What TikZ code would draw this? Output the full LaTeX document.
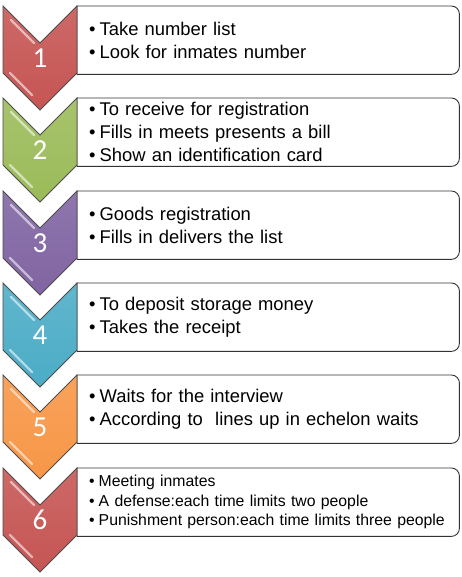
\documentclass[tikz,border=0pt]{standalone}
\usepackage{fontspec}
\setmainfont{Liberation Sans}
\newfontfamily\numfont{Carlito}
\usetikzlibrary{positioning}
\usepackage{xcolor}
\definecolor{stepred}{HTML}{C55553}
\definecolor{stepgreen}{HTML}{9BBB59}
\definecolor{steppurple}{HTML}{8064A2}
\definecolor{stepaqua}{HTML}{4BACC6}
\definecolor{steporange}{HTML}{F79646}

\begin{document}
\begin{tikzpicture}[x=1pt,y=-1pt,
        every text node part/.style={align=left},
        stepbox/.style={fill=white,anchor=north west,minimum width=382pt,minimum height=68pt,text width=358pt,inner xsep=12pt,inner ysep=0pt,font=\fontsize{18.4}{23}\selectfont},
        boxline/.style={draw=black!80,line width=0.9pt},
        chevron/.style={draw=black!70,line width=0.8pt,top color=#1!88!white,bottom color=#1},
        gloss/.style={draw=white,opacity=0.55,line width=2.2pt,line cap=round},
        numlabel/.style={text=white,font=\numfont\fontsize{29}{29}\selectfont}]
        \useasboundingbox (0,0) rectangle (462,577);

        \node[stepbox] (box1) at (77,6) {\textbullet\hspace{4pt}Take number list\\\textbullet\hspace{4pt}Look for inmates number};
        \node[stepbox] (box2) at (77,98) {\textbullet\hspace{4pt}To receive for registration\\\textbullet\hspace{4pt}Fills in meets presents a bill\\\textbullet\hspace{4pt}Show an identification card};
        \node[stepbox] (box3) at (77,191) {\textbullet\hspace{4pt}Goods registration\\\textbullet\hspace{4pt}Fills in delivers the list};
        \node[stepbox] (box4) at (77,283) {\textbullet\hspace{4pt}To deposit storage money\\\textbullet\hspace{4pt}Takes the receipt};
        \node[stepbox] (box5) at (77,375) {\textbullet\hspace{4pt}Waits for the interview\\\textbullet\hspace{4pt}According to\ \ lines up in echelon waits};
        \node[stepbox,font=\fontsize{15.8}{19.5}\selectfont,inner xsep=11pt] (box6) at (77,468) {\textbullet\hspace{4pt}Meeting inmates\\\textbullet\hspace{4pt}A defense:each time limits two people\\\textbullet\hspace{4pt}Punishment person:each time limits three people};

        % box outlines, square on the left, rounded on the right
        \draw[boxline] (box1.south west) -- (box1.north west) -- ([xshift=-8pt]box1.north east) arc[start angle=90,end angle=0,radius=8pt] -- ([yshift=8pt]box1.south east) arc[start angle=0,end angle=-90,radius=8pt] -- cycle;
        \draw[boxline] (box2.south west) -- (box2.north west) -- ([xshift=-8pt]box2.north east) arc[start angle=90,end angle=0,radius=8pt] -- ([yshift=8pt]box2.south east) arc[start angle=0,end angle=-90,radius=8pt] -- cycle;
        \draw[boxline] (box3.south west) -- (box3.north west) -- ([xshift=-8pt]box3.north east) arc[start angle=90,end angle=0,radius=8pt] -- ([yshift=8pt]box3.south east) arc[start angle=0,end angle=-90,radius=8pt] -- cycle;
        \draw[boxline] (box4.south west) -- (box4.north west) -- ([xshift=-8pt]box4.north east) arc[start angle=90,end angle=0,radius=8pt] -- ([yshift=8pt]box4.south east) arc[start angle=0,end angle=-90,radius=8pt] -- cycle;
        \draw[boxline] (box5.south west) -- (box5.north west) -- ([xshift=-8pt]box5.north east) arc[start angle=90,end angle=0,radius=8pt] -- ([yshift=8pt]box5.south east) arc[start angle=0,end angle=-90,radius=8pt] -- cycle;
        \draw[boxline] (box6.south west) -- (box6.north west) -- ([xshift=-8pt]box6.north east) arc[start angle=90,end angle=0,radius=8pt] -- ([yshift=8pt]box6.south east) arc[start angle=0,end angle=-90,radius=8pt] -- cycle;

        % chevrons
        \path[chevron=stepred] (box1.north west) -- ++(0,67) -- ++(-37,37) -- ++(-37,-37) -- ++(0,-67) -- ++(37,37) -- cycle;
        \path[chevron=stepgreen] (box2.north west) -- ++(0,67) -- ++(-37,37) -- ++(-37,-37) -- ++(0,-67) -- ++(37,37) -- cycle;
        \path[chevron=steppurple] (box3.north west) -- ++(0,67) -- ++(-37,37) -- ++(-37,-37) -- ++(0,-67) -- ++(37,37) -- cycle;
        \path[chevron=stepaqua] (box4.north west) -- ++(0,67) -- ++(-37,37) -- ++(-37,-37) -- ++(0,-67) -- ++(37,37) -- cycle;
        \path[chevron=steporange] (box5.north west) -- ++(0,67) -- ++(-37,37) -- ++(-37,-37) -- ++(0,-67) -- ++(37,37) -- cycle;
        \path[chevron=stepred] (box6.north west) -- ++(0,67) -- ++(-37,37) -- ++(-37,-37) -- ++(0,-67) -- ++(37,37) -- cycle;

        % glossy streaks
        \draw[gloss] ([shift={(-66,14)}]box1.north west) -- ++(23,23);
        \draw[gloss] ([shift={(-67,67)}]box1.north west) -- ++(22,22);
        \draw[gloss] ([shift={(-66,14)}]box2.north west) -- ++(23,23);
        \draw[gloss] ([shift={(-67,67)}]box2.north west) -- ++(22,22);
        \draw[gloss] ([shift={(-66,14)}]box3.north west) -- ++(23,23);
        \draw[gloss] ([shift={(-67,67)}]box3.north west) -- ++(22,22);
        \draw[gloss] ([shift={(-66,14)}]box4.north west) -- ++(23,23);
        \draw[gloss] ([shift={(-67,67)}]box4.north west) -- ++(22,22);
        \draw[gloss] ([shift={(-66,14)}]box5.north west) -- ++(23,23);
        \draw[gloss] ([shift={(-67,67)}]box5.north west) -- ++(22,22);
        \draw[gloss] ([shift={(-66,14)}]box6.north west) -- ++(23,23);
        \draw[gloss] ([shift={(-67,67)}]box6.north west) -- ++(22,22);

        \node[numlabel] (num1) at (40,58) {1};
        \node[numlabel] (num2) at (40,150) {2};
        \node[numlabel] (num3) at (40,243) {3};
        \node[numlabel] (num4) at (40,335) {4};
        \node[numlabel] (num5) at (40,427) {5};
        \node[numlabel] (num6) at (40,520) {6};
\end{tikzpicture}
\end{document}
